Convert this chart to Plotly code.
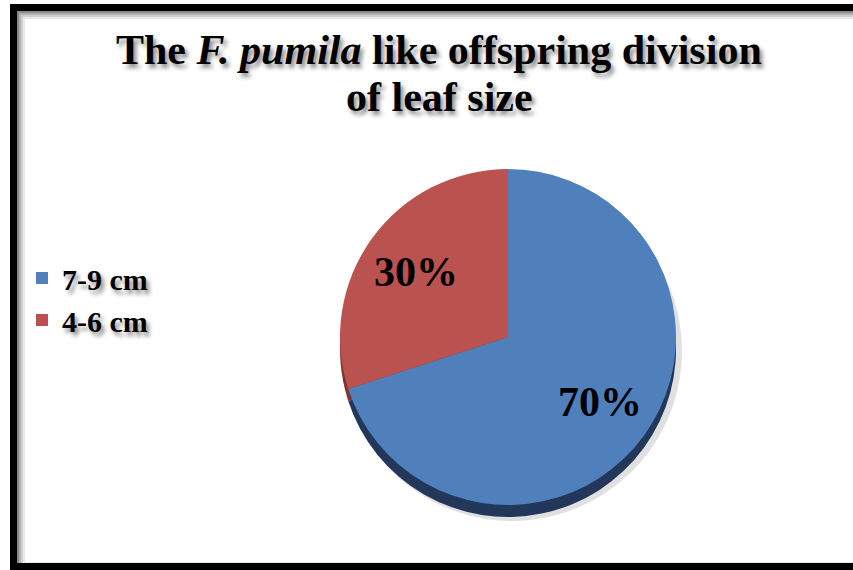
import math
import plotly.graph_objects as go

labels = ["7-9 cm", "4-6 cm"]
values = [70, 30]
face_colors = ["#4f80bb", "#ba524f"]
edge_colors = ["#22375a", "#7e3432"]
title_line1 = "The <i>F. pumila</i> like offspring division"
title_line2 = "of leaf size"

W, H = 853, 570
SERIF = "Liberation Serif"
SHADOW = "3px 4px 4px rgba(0,0,0,0.45)"

def px_x(x):
    return x / W

def px_y(y):
    return 1 - y / H

cx, cy, r = 508, 337, 168
edge_off = 12

fig = go.Figure()

# soft shadow
fig.add_trace(go.Pie(
    labels=labels, values=values, sort=False, direction="clockwise", rotation=0,
    marker=dict(colors=["rgba(0,0,0,0.12)", "rgba(0,0,0,0.12)"], line=dict(width=0)),
    textinfo="none", hoverinfo="skip", showlegend=False,
    domain=dict(x=[px_x(cx - r + 2), px_x(cx + r + 6)],
                y=[px_y(cy + r + edge_off + 6), px_y(cy - r + edge_off - 2)]),
))
# dark 3D edge
fig.add_trace(go.Pie(
    labels=labels, values=values, sort=False, direction="clockwise", rotation=0,
    marker=dict(colors=edge_colors, line=dict(width=0)),
    textinfo="none", hoverinfo="skip", showlegend=False,
    domain=dict(x=[px_x(cx - r), px_x(cx + r)],
                y=[px_y(cy + r + edge_off), px_y(cy - r + edge_off)]),
))
# top face
fig.add_trace(go.Pie(
    labels=labels, values=values, sort=False, direction="clockwise", rotation=0,
    marker=dict(colors=face_colors, line=dict(width=0)),
    textinfo="none",
    hoverinfo="label+percent",
    domain=dict(x=[px_x(cx - r), px_x(cx + r)],
                y=[px_y(cy + r), px_y(cy - r)]),
))

shapes = []
# inner soft grey shadow of the frame
for i, col in enumerate(["#8a8a8a", "#b0b0b0", "#d0d0d0", "#e8e8e8"]):
    o = 17 + i * 2 + 1
    shapes.append(dict(type="rect", xref="paper", yref="paper",
                       x0=px_x(o), x1=px_x(W + 20), y0=px_y(H - 7), y1=px_y(o - 6),
                       line=dict(color=col, width=2), fillcolor="rgba(0,0,0,0)", layer="below"))
# black frame
shapes.append(dict(type="rect", xref="paper", yref="paper",
                   x0=px_x(13.5), x1=px_x(W + 20), y0=px_y(566.5), y1=px_y(7.5),
                   line=dict(color="black", width=7), fillcolor="rgba(0,0,0,0)", layer="above"))

title_font = dict(family=SERIF, size=42, color="black", weight="bold", shadow=SHADOW)
annotations = [
    dict(text=title_line1, xref="paper", yref="paper", x=px_x(439), y=px_y(50),
         xanchor="center", yanchor="middle", showarrow=False, font=title_font),
    dict(text=title_line2, xref="paper", yref="paper", x=px_x(439), y=px_y(97),
         xanchor="center", yanchor="middle", showarrow=False, font=title_font),
]

# percentage labels placed at each slice's mid-angle
total = sum(values)
cum = 0
for v in values:
    mid = (cum + v / 2) / total * 2 * math.pi  # clockwise from 12 o'clock
    cum += v
    lx = cx + 0.68 * r * math.sin(mid)
    ly = cy - 0.66 * r * math.cos(mid)
    annotations.append(dict(text=f"{v / total:.0%}", xref="paper", yref="paper",
                            x=px_x(lx), y=px_y(ly), xanchor="center", yanchor="middle",
                            showarrow=False,
                            font=dict(family=SERIF, size=42, color="black", weight="bold")))

fig.update_layout(
    width=W, height=H,
    margin=dict(l=0, r=0, t=0, b=0),
    paper_bgcolor="white", plot_bgcolor="white",
    shapes=shapes, annotations=annotations,
    legend=dict(x=px_x(22), y=px_y(252), xanchor="left", yanchor="top",
                font=dict(family=SERIF, size=30, color="black", weight="bold", shadow=SHADOW),
                bgcolor="rgba(0,0,0,0)", tracegroupgap=0, itemsizing="constant"),
    showlegend=True,
)

fig.write_html("out.html")
